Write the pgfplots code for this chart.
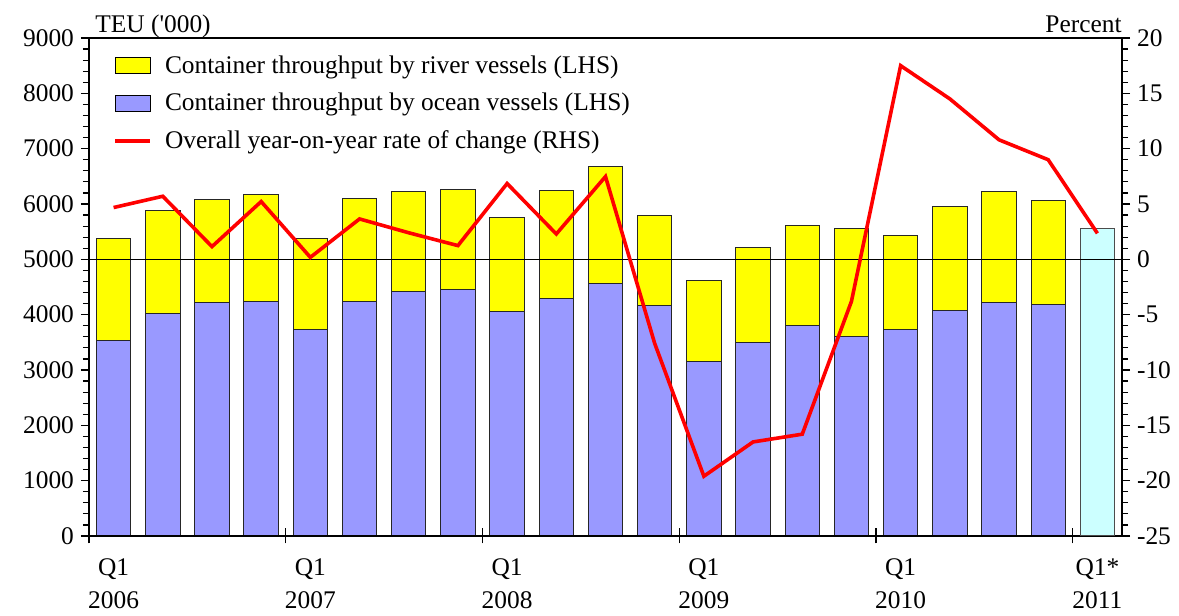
\documentclass[border=0pt]{standalone}
\usepackage{pgfplots}
\pgfplotsset{compat=1.18}
\usepackage{pgfplotstable}
\usepackage{fontspec}
\setmainfont{Liberation Serif}

\definecolor{riveryellow}{RGB}{255,255,0}
\definecolor{oceanblue}{RGB}{153,153,255}
\definecolor{prelimcyan}{RGB}{204,255,255}
\definecolor{yoyred}{RGB}{255,0,0}

\newcommand{\cf}{\fontsize{12.7}{16.5}\selectfont}

% container throughput, '000 TEU (Q1 2006 - Q4 2010)
\pgfplotstableread{
x    ocean river
0.5  3529  1845
1.5  4015  1872
2.5  4225  1849
3.5  4245  1931
4.5  3741  1633
5.5  4245  1859
6.5  4427  1792
7.5  4451  1816
8.5  4053  1695
9.5  4288  1949
10.5 4566  2105
11.5 4158  1635
12.5 3149  1471
13.5 3498  1707
14.5 3811  1792
15.5 3612  1949
16.5 3732  1690
17.5 4082  1877
18.5 4226  1993
19.5 4175  1881
}\teu

% overall year-on-year rate of change, percent
\pgfplotstableread{
x    change
0.5   4.68
1.5   5.70
2.5   1.15
3.5   5.22
4.5   0.18
5.5   3.65
6.5   2.40
7.5   1.24
8.5   6.85
9.5   2.29
10.5  7.48
11.5 -7.60
12.5 -19.60
13.5 -16.50
14.5 -15.80
15.5 -3.80
16.5 17.50
17.5 14.50
18.5 10.80
19.5  9.00
20.5  2.35
}\chg

\pgfplotsset{
  base/.style={
    width=516.5pt, height=249pt, scale only axis,
    xmin=0, xmax=21, enlargelimits=false,
    tick label style={font=\cf},
    /pgf/number format/assume math mode=true,
    /pgf/number format/1000 sep={},
    axis line style={line width=0.6pt},
    every tick/.style={black, line width=0.6pt},
  },
  barlegend/.style={legend image code/.code={
    \draw[##1] (0pt,-4pt) rectangle (17.5pt,4pt);}},
  linelegend/.style={legend image code/.code={
    \draw[##1] (0pt,0pt) -- (17.5pt,0pt);}},
}

\begin{document}
\begin{tikzpicture}
\path[use as bounding box] (-44.5pt,-40pt) rectangle (545pt,268pt);

\begin{axis}[base, ybar stacked, bar width=0.7,
  ymin=0, ymax=9000, ytick={0,1000,...,9000}, minor y tick num=4,
  ytick pos=left, tick align=outside,
  major tick length=4pt, minor tick length=3pt,
  xtick={0.5,4.5,...,20.5},
  xticklabels={{Q1\\2006},{Q1\\2007},{Q1\\2008},{Q1\\2009},{Q1\\2010},{Q1*\\2011}},
  xtick style={draw=none},
  xticklabel style={align=center, font=\cf, yshift=-4pt},
]
\addplot[fill=oceanblue, draw=black!85, line width=0.5pt] table[x=x, y=ocean]{\teu};
\addplot[fill=riveryellow, draw=black!85, line width=0.5pt] table[x=x, y=river]{\teu};
\end{axis}

\begin{axis}[base, ymin=0, ymax=9000,
  axis y line=none, ytick=\empty, axis x line*=bottom,
  xtick={0,4,...,20}, xticklabels={},
  tick align=center, major tick length=7.5pt,
]
\addplot[ybar, bar width=0.7, fill=prelimcyan, draw=black!70, line width=0.5pt]
  coordinates {(20.5,5561)};
\end{axis}

\begin{axis}[base, ymin=-25, ymax=20,
  ytick={-25,-20,...,20}, minor y tick num=4,
  axis y line*=right, axis x line=none,
  tick align=outside, major tick length=4pt, minor tick length=3pt,
  legend cell align=left,
  legend style={draw=none, fill=none, font=\cf,
    at={(0,1)}, anchor=north west, xshift=9pt, yshift=-4.5pt,
    row sep=4.5pt,
    /tikz/every odd column/.append style={column sep=4.5pt}},
]
\addlegendimage{barlegend, fill=riveryellow, draw=black, line width=0.5pt}
\addlegendentry{Container throughput by river vessels (LHS)}
\addlegendimage{barlegend, fill=oceanblue, draw=black, line width=0.5pt}
\addlegendentry{Container throughput by ocean vessels (LHS)}
\addplot[black, line width=0.6pt, forget plot] coordinates {(0,0) (21,0)};
\addplot[yoyred, line width=1.8pt, mark=none, linelegend] table[x=x, y=change]{\chg};
\addlegendentry{Overall year-on-year rate of change (RHS)}
\end{axis}

\node[anchor=base west, font=\cf, inner sep=0pt] at (3pt,251.5pt) {TEU (\textquotesingle000)};
\node[anchor=base east, font=\cf, inner sep=0pt] at (516.5pt,251.5pt) {Percent};
\end{tikzpicture}
\end{document}
